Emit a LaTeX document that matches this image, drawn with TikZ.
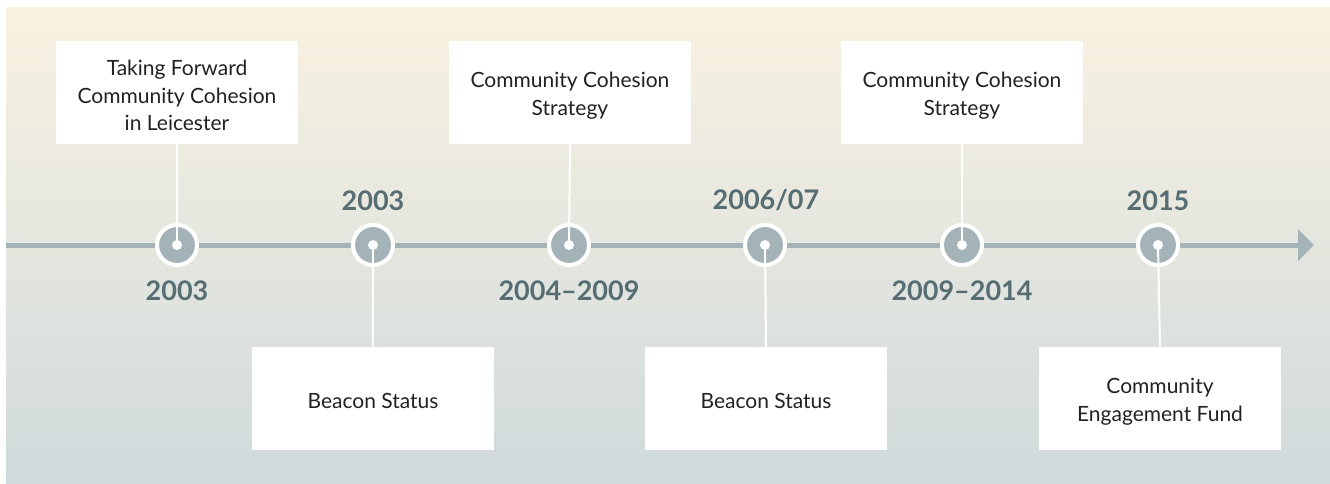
\documentclass[tikz,border=0pt]{standalone}
\usepackage{fontspec}
\setmainfont{Lato}
\usetikzlibrary{arrows.meta}
\definecolor{bgtop}{HTML}{F9F2E1}
\definecolor{bgbot}{HTML}{D0DADC}
\definecolor{axisgray}{HTML}{A3B3B7}
\definecolor{yeargray}{HTML}{566E73}
\definecolor{boxtext}{HTML}{222222}
\tikzset{
  eventbox/.style={fill=white, draw=none, minimum width=242pt, minimum height=103pt, inner sep=0pt},
  boxlabel/.style={align=center, text=boxtext, font=\fontsize{21}{27.5}\selectfont, inner sep=0pt},
  yearlabel/.style={text=yeargray, font=\fontsize{27}{29}\selectfont\bfseries, inner sep=0pt},
  milestone/.style={circle, fill=axisgray, draw=white, line width=4pt, minimum size=40pt, inner sep=0pt},
  hub/.style={circle, fill=white, minimum size=10pt, inner sep=0pt},
  stem/.style={draw=white, line width=2pt},
  axis/.style={draw=axisgray, line width=5pt, -{Triangle[length=16pt,width=31pt]}}
}
\begin{document}
\begin{tikzpicture}[x=1pt,y=-1pt]
\useasboundingbox (0,0) rectangle (1330,483);
\fill[white] (0,0) rectangle (1330,483);
\shade[top color=bgtop, bottom color=bgbot] (6,7) rectangle (1330,483);

\coordinate (axstart) at (6,245);
\coordinate (axend) at (1314,245);
\draw[axis] (axstart) -- (axend);

\foreach \i/\x in {1/177,2/373,3/569,4/765,5/962,6/1158}{
  \node[milestone] (c\i) at (\x,245) {};
}

\node[eventbox] (b1) at (177,92.5) {};
\node[eventbox] (b2) at (373,398.5) {};
\node[eventbox] (b3) at (570,92.5) {};
\node[eventbox] (b4) at (766,398.5) {};
\node[eventbox] (b5) at (962,92.5) {};
\node[eventbox] (b6) at (1160,398.5) {};

\node[boxlabel] (t1) at ([yshift=-3pt]b1.center) {Taking Forward\\Community Cohesion\\in Leicester};
\node[boxlabel] (t2) at ([yshift=-2pt]b2.center) {Beacon Status};
\node[boxlabel] (t3) at ([yshift=-3pt]b3.center) {Community Cohesion\\Strategy};
\node[boxlabel] (t4) at ([yshift=-2pt]b4.center) {Beacon Status};
\node[boxlabel] (t5) at ([yshift=-3pt]b5.center) {Community Cohesion\\Strategy};
\node[boxlabel] (t6) at ([yshift=-3pt]b6.center) {Community\\Engagement Fund};

\draw[stem] (b1.south) -- (c1.center);
\draw[stem] (b2.north) -- (c2.center);
\draw[stem] (b3.south) -- (c3.center);
\draw[stem] (b4.north) -- (c4.center);
\draw[stem] (b5.south) -- (c5.center);
\draw[stem] (b6.north) -- (c6.center);

\foreach \i in {1,...,6}{
  \node[hub] (h\i) at (c\i.center) {};
}

\node[yearlabel] (y1) at (177,291) {2003};
\node[yearlabel] (y2) at (373,200.5) {2003};
\node[yearlabel] (y3) at (569,291) {2004–2009};
\node[yearlabel] (y4) at (766,200.5) {2006/07};
\node[yearlabel] (y5) at (962,291) {2009–2014};
\node[yearlabel] (y6) at (1158,200.5) {2015};
\end{tikzpicture}
\end{document}
